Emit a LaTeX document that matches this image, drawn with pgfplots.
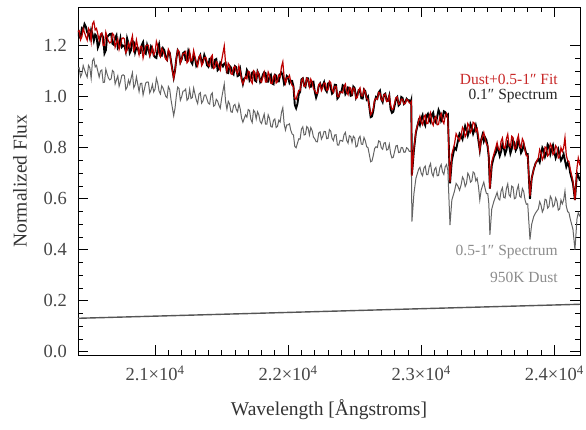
\documentclass[border=0pt]{standalone}
\usepackage{fontspec}
\setmainfont{Liberation Serif}
\usepackage{pgfplots}
\usepackage{pgfplotstable}
\pgfplotsset{compat=1.18}

\definecolor{fitred}{RGB}{188,0,0}
\definecolor{fitredtxt}{RGB}{200,40,40}
\definecolor{outergray}{RGB}{100,100,100}
\definecolor{dustgray}{RGB}{85,85,85}
\definecolor{lbltxt}{RGB}{140,140,140}
\definecolor{ticktxt}{RGB}{70,70,70}

% lam = wavelength [A], G = 0.5-1" spectrum, R = dust+0.5-1" fit, B = 0.1" spectrum
\pgfplotstableread{
lam G R B
20420 1.110 1.255 1.260
20430 1.114 1.259 1.232
20440 1.078 1.223 1.233
20450 1.090 1.235 1.268
20460 1.122 1.267 1.262
20470 1.106 1.251 1.285
20480 1.090 1.235 1.275
20490 1.077 1.222 1.252
20500 1.123 1.268 1.248
20510 1.113 1.258 1.230
20520 1.072 1.217 1.262
20530 1.141 1.286 1.246
20540 1.150 1.295 1.220
20550 1.117 1.262 1.244
20560 1.123 1.268 1.238
20570 1.100 1.245 1.193
20580 1.077 1.222 1.207
20590 1.101 1.246 1.236
20600 1.105 1.250 1.245
20610 1.056 1.201 1.233
20620 1.057 1.202 1.170
20630 1.108 1.253 1.182
20640 1.089 1.234 1.234
20650 1.073 1.218 1.240
20660 1.066 1.211 1.246
20670 1.070 1.215 1.247
20680 1.103 1.248 1.208
20690 1.097 1.242 1.204
20700 1.050 1.195 1.230
20710 1.066 1.211 1.241
20720 1.082 1.227 1.192
20730 1.041 1.186 1.201
20740 1.059 1.204 1.229
20750 1.083 1.228 1.195
20760 1.086 1.231 1.201
20770 1.082 1.227 1.200
20780 1.028 1.173 1.178
20790 1.037 1.182 1.229
20800 1.065 1.210 1.210
20810 1.049 1.194 1.172
20820 1.073 1.218 1.183
20830 1.094 1.239 1.219
20840 1.035 1.180 1.215
20850 1.047 1.192 1.174
20860 1.078 1.223 1.193
20870 1.049 1.194 1.192
20880 1.020 1.165 1.170
20890 1.052 1.197 1.172
20900 1.053 1.198 1.203
20910 1.007 1.152 1.214
20920 1.030 1.175 1.175
20930 1.054 1.199 1.169
20940 1.058 1.203 1.203
20950 1.057 1.202 1.184
20960 1.015 1.160 1.165
20970 1.027 1.172 1.197
20980 1.048 1.193 1.188
20990 1.019 1.164 1.162
21000 1.030 1.175 1.155
21010 1.072 1.217 1.152
21020 1.053 1.199 1.189
21030 1.022 1.168 1.206
21040 1.011 1.157 1.162
21050 1.043 1.189 1.161
21060 1.034 1.180 1.190
21070 1.018 1.164 1.182
21080 1.002 1.148 1.153
21090 0.996 1.142 1.145
21100 1.040 1.186 1.176
21110 1.029 1.175 1.173
21120 0.988 1.134 1.139
21130 0.957 1.103 1.107
21140 0.926 1.072 1.075
21150 0.955 1.101 1.103
21160 1.004 1.150 1.150
21170 1.038 1.184 1.182
21180 1.032 1.178 1.173
21190 0.986 1.132 1.135
21200 1.000 1.147 1.147
21210 1.022 1.169 1.171
21220 1.023 1.170 1.175
21230 1.030 1.177 1.144
21240 0.986 1.133 1.143
21250 0.993 1.140 1.180
21260 1.029 1.176 1.166
21270 0.993 1.140 1.138
21280 0.997 1.144 1.129
21290 1.034 1.181 1.161
21300 1.010 1.157 1.152
21310 0.987 1.134 1.121
21320 0.973 1.120 1.130
21330 1.010 1.157 1.152
21340 1.016 1.163 1.163
21350 0.975 1.122 1.135
21360 0.984 1.132 1.137
21370 1.006 1.153 1.164
21380 1.007 1.155 1.150
21390 0.991 1.139 1.124
21400 0.975 1.123 1.118
21410 0.971 1.119 1.149
21420 1.007 1.155 1.150
21430 1.015 1.163 1.116
21440 0.963 1.111 1.121
21450 0.967 1.115 1.145
21460 0.990 1.138 1.148
21470 0.983 1.131 1.104
21480 0.966 1.115 1.110
21490 0.955 1.104 1.134
21500 0.993 1.142 1.127
21510 1.022 1.171 1.119
21520 1.050 1.199 1.130
21530 0.981 1.130 1.133
21540 0.951 1.100 1.095
21550 0.982 1.131 1.093
21560 0.972 1.121 1.121
21570 0.941 1.090 1.115
21580 0.939 1.088 1.098
21590 0.965 1.114 1.089
21600 0.970 1.119 1.120
21610 0.951 1.100 1.116
21620 0.941 1.090 1.081
21630 0.972 1.121 1.084
21640 0.952 1.101 1.107
21650 0.916 1.066 1.074
21660 0.900 1.050 1.050
21670 0.915 1.065 1.072
21680 0.929 1.079 1.074
21690 0.920 1.070 1.105
21700 0.950 1.100 1.095
21710 0.946 1.097 1.064
21720 0.911 1.063 1.073
21730 0.899 1.053 1.095
21740 0.947 1.102 1.097
21750 0.940 1.096 1.064
21760 0.913 1.070 1.060
21770 0.941 1.099 1.099
21780 0.929 1.088 1.088
21790 0.902 1.063 1.058
21800 0.895 1.057 1.067
21810 0.914 1.077 1.087
21820 0.932 1.096 1.096
21830 0.893 1.058 1.093
21840 0.893 1.059 1.059
21850 0.929 1.097 1.059
21860 0.915 1.084 1.079
21870 0.883 1.053 1.086
21880 0.881 1.052 1.052
21890 0.907 1.079 1.049
21900 0.913 1.086 1.086
21910 0.879 1.054 1.083
21920 0.884 1.060 1.060
21930 0.908 1.085 1.060
21940 0.901 1.079 1.089
21950 0.939 1.118 1.095
21960 0.957 1.137 1.080
21970 0.893 1.075 1.049
21980 0.869 1.052 1.057
21990 0.890 1.074 1.081
22000 0.890 1.075 1.075
22010 0.894 1.084 1.054
22020 0.868 1.058 1.063
22030 0.854 1.044 1.062
22040 0.850 1.040 1.040
22050 0.805 0.995 0.968
22060 0.800 0.990 0.955
22070 0.818 1.008 0.973
22080 0.835 1.025 1.010
22090 0.834 1.024 1.019
22100 0.873 1.063 1.068
22110 0.882 1.072 1.072
22120 0.850 1.040 1.045
22130 0.852 1.042 1.039
22140 0.883 1.073 1.073
22150 0.877 1.067 1.072
22160 0.850 1.040 1.040
22170 0.879 1.069 1.039
22180 0.868 1.058 1.058
22190 0.842 1.032 1.059
22200 0.835 1.025 1.020
22210 0.824 1.014 0.997
22220 0.823 1.013 1.013
22230 0.858 1.048 1.043
22240 0.862 1.052 1.052
22250 0.834 1.024 1.034
22260 0.845 1.035 1.045
22270 0.864 1.054 1.057
22280 0.863 1.053 1.028
22290 0.835 1.025 1.020
22300 0.837 1.027 1.052
22310 0.871 1.061 1.054
22320 0.865 1.055 1.035
22330 0.837 1.027 1.012
22340 0.828 1.018 1.018
22350 0.850 1.040 1.047
22360 0.851 1.041 1.046
22370 0.811 1.001 0.993
22380 0.810 1.000 1.000
22390 0.829 1.019 1.019
22400 0.828 1.018 1.018
22410 0.825 1.015 1.045
22420 0.851 1.041 1.041
22430 0.860 1.050 1.010
22440 0.829 1.019 1.019
22450 0.818 1.008 1.036
22460 0.847 1.037 1.032
22470 0.844 1.034 1.004
22480 0.821 1.011 1.006
22490 0.845 1.035 1.040
22500 0.839 1.029 1.034
22510 0.803 0.993 0.996
22520 0.807 0.997 1.007
22530 0.836 1.026 1.026
22540 0.845 1.035 1.025
22550 0.814 1.004 0.994
22560 0.813 1.003 0.993
22570 0.840 1.030 1.028
22580 0.827 1.017 1.022
22590 0.804 0.994 0.991
22600 0.800 0.990 1.000
22610 0.773 0.963 0.960
22620 0.745 0.930 0.920
22630 0.748 0.938 0.923
22640 0.770 0.955 0.945
22650 0.797 0.987 0.982
22660 0.804 0.994 0.999
22670 0.801 0.991 0.993
22680 0.827 1.017 1.017
22690 0.824 1.014 1.024
22700 0.800 0.990 0.990
22710 0.794 0.984 0.979
22720 0.818 1.008 1.008
22730 0.820 1.010 1.012
22740 0.791 0.981 0.986
22750 0.793 0.983 0.985
22760 0.814 1.004 1.004
22770 0.777 0.967 0.951
22780 0.760 0.950 0.937
22790 0.763 0.953 0.941
22800 0.785 0.975 0.965
22810 0.807 0.997 0.992
22820 0.809 0.999 0.999
22830 0.781 0.971 0.966
22840 0.782 0.972 0.972
22850 0.801 0.991 0.999
22860 0.800 0.990 0.995
22870 0.782 0.972 0.972
22880 0.783 0.973 0.978
22890 0.800 0.990 0.992
22900 0.796 0.986 0.986
22910 0.786 0.976 0.986
22920 0.785 0.975 0.975
22925 0.790 0.980 0.985
22930 0.510 0.690 0.695
22945 0.620 0.800 0.790
22960 0.680 0.865 0.860
22980 0.715 0.905 0.905
22990 0.723 0.923 0.890
23000 0.700 0.900 0.915
23010 0.690 0.890 0.928
23020 0.720 0.920 0.900
23030 0.728 0.928 0.888
23040 0.695 0.895 0.925
23050 0.695 0.895 0.933
23060 0.725 0.925 0.910
23070 0.738 0.938 0.900
23080 0.700 0.900 0.930
23090 0.688 0.888 0.938
23100 0.715 0.915 0.905
23110 0.723 0.923 0.898
23120 0.690 0.890 0.920
23130 0.691 0.891 0.948
23140 0.722 0.922 0.935
23150 0.734 0.934 0.905
23160 0.705 0.905 0.915
23170 0.695 0.895 0.943
23180 0.725 0.925 0.940
23190 0.734 0.934 0.925
23200 0.712 0.912 0.930
23216 0.497 0.665 0.660
23230 0.595 0.775 0.750
23250 0.630 0.815 0.800
23262 0.660 0.855 0.793
23275 0.650 0.840 0.825
23288 0.633 0.828 0.855
23300 0.655 0.850 0.845
23310 0.685 0.880 0.833
23320 0.675 0.870 0.860
23330 0.648 0.843 0.885
23340 0.660 0.855 0.870
23350 0.700 0.895 0.848
23360 0.690 0.885 0.865
23370 0.665 0.860 0.893
23380 0.670 0.870 0.880
23390 0.705 0.900 0.855
23400 0.700 0.895 0.870
23410 0.670 0.865 0.888
23420 0.680 0.875 0.865
23430 0.648 0.843 0.828
23440 0.595 0.790 0.790
23450 0.633 0.828 0.830
23460 0.650 0.845 0.850
23470 0.665 0.860 0.825
23480 0.640 0.835 0.840
23490 0.620 0.815 0.830
23500 0.620 0.810 0.800
23508 0.580 0.770 0.760
23516 0.458 0.640 0.640
23530 0.560 0.745 0.730
23546 0.590 0.775 0.765
23560 0.610 0.800 0.780
23570 0.625 0.820 0.805
23580 0.600 0.795 0.790
23590 0.595 0.790 0.768
23600 0.630 0.825 0.785
23610 0.643 0.838 0.813
23620 0.605 0.800 0.800
23630 0.603 0.798 0.775
23640 0.640 0.835 0.790
23650 0.658 0.853 0.820
23660 0.615 0.810 0.810
23670 0.608 0.803 0.778
23680 0.650 0.845 0.795
23690 0.645 0.840 0.828
23700 0.600 0.795 0.820
23710 0.603 0.798 0.790
23720 0.635 0.830 0.800
23730 0.653 0.848 0.830
23740 0.610 0.805 0.810
23750 0.605 0.800 0.780
23760 0.640 0.835 0.790
23770 0.628 0.823 0.813
23780 0.595 0.790 0.795
23790 0.578 0.768 0.775
23800 0.580 0.770 0.775
23817 0.440 0.610 0.600
23830 0.500 0.680 0.680
23845 0.530 0.715 0.715
23860 0.545 0.740 0.740
23880 0.560 0.760 0.755
23890 0.588 0.793 0.743
23900 0.575 0.780 0.770
23910 0.548 0.753 0.800
23920 0.560 0.765 0.790
23930 0.598 0.803 0.765
23940 0.595 0.800 0.780
23950 0.563 0.768 0.813
23960 0.570 0.775 0.805
23970 0.610 0.815 0.775
23980 0.600 0.805 0.795
23990 0.568 0.773 0.810
24000 0.575 0.780 0.785
24010 0.603 0.808 0.760
24020 0.590 0.800 0.775
24030 0.555 0.760 0.793
24040 0.560 0.765 0.770
24050 0.595 0.800 0.750
24060 0.580 0.785 0.760
24070 0.595 0.800 0.775
24080 0.630 0.840 0.750
24090 0.570 0.770 0.725
24100 0.550 0.750 0.740
24110 0.545 0.745 0.730
24120 0.520 0.715 0.700
24140 0.480 0.670 0.660
24155 0.400 0.595 0.595
24170 0.520 0.720 0.700
24180 0.545 0.760 0.690
24193 0.530 0.730 0.670
}\spec

\begin{document}
\begin{tikzpicture}
\begin{axis}[
  at={(0,0)}, anchor=south west,
  scale only axis,
  width=502pt, height=348pt,
  xmin=20421, xmax=24193,
  ymin=-0.013, ymax=1.352,
  axis line style={line width=0.9pt, black},
  tick style={line width=0.8pt, black},
  major tick length=10pt, minor tick length=5pt,
  tick align=inside,
  xtick={21000,22000,23000,24000},
  xticklabels={2.1×10\textsuperscript{4},2.2×10\textsuperscript{4},2.3×10\textsuperscript{4},2.4×10\textsuperscript{4}},
  minor x tick num=9,
  ytick={0,0.2,...,1.21},
  minor y tick num=3,
  yticklabel={\pgfmathprintnumber[fixed,fixed zerofill,precision=1]{\tick}},
  /pgf/number format/assume math mode=true,
  ticklabel style={font=\fontsize{18.5}{20}\selectfont, text=ticktxt},
  yticklabel style={inner sep=0pt, xshift=-11pt},
  xticklabel style={inner sep=0pt, yshift=-11pt},
  scaled x ticks=false,
  xlabel={Wavelength [Ångstroms]},
  ylabel={Normalized Flux},
  label style={font=\fontsize{19.5}{21}\selectfont, text=black!80},
  xlabel style={at={(axis description cs:0.5,-0.158)}, anchor=center},
  ylabel style={at={(axis description cs:-0.1155,0.5)}, anchor=center},
  clip=true,
]
  \addplot[outergray, line width=1.0pt] table[x=lam, y=G] {\spec};
  \addplot[dustgray, line width=1.4pt] coordinates {(20421,0.131) (24193,0.186)};
  \addplot[black, line width=1.9pt] table[x=lam, y=B] {\spec};
  \addplot[fitred, line width=1.2pt] table[x=lam, y=R] {\spec};

  \node[anchor=east, text=fitredtxt, font=\fontsize{15.5}{17}\selectfont, inner sep=0pt] at (rel axis cs:0.956,0.792) {Dust+0.5-1″ Fit};
  \node[anchor=east, text=black!85, font=\fontsize{15.5}{17}\selectfont, inner sep=0pt] at (rel axis cs:0.956,0.745) {0.1″ Spectrum};
  \node[anchor=east, text=lbltxt, font=\fontsize{15.5}{17}\selectfont, inner sep=0pt] at (rel axis cs:0.956,0.297) {0.5-1″ Spectrum};
  \node[anchor=east, text=lbltxt, font=\fontsize{15.5}{17}\selectfont, inner sep=0pt] at (rel axis cs:0.956,0.222) {950K Dust};
\end{axis}
\pgfresetboundingbox
\path (-78pt,-74pt) rectangle (508pt,355pt);
\end{tikzpicture}
\end{document}
